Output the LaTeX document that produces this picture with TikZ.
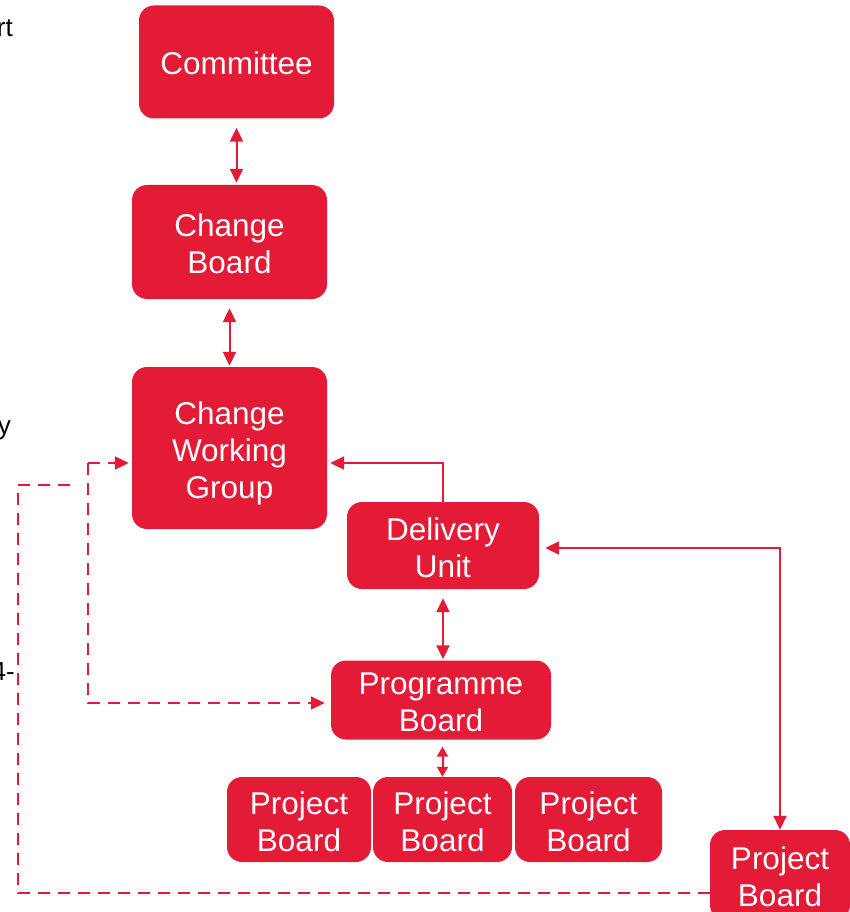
\documentclass[tikz,border=0pt]{standalone}
\usepackage{fontspec}
\setmainfont{Liberation Sans}
\usetikzlibrary{arrows.meta,calc}
\definecolor{govred}{RGB}{227,27,55}
\newcommand{\upstrut}{\rule{0pt}{34pt}}
\newcommand{\downstrut}{\rule[-8pt]{0pt}{8pt}}

\tikzset{
  box/.style={fill=govred, rounded corners=15pt, text=white, align=center,
    inner sep=0pt, font=\fontsize{31.5}{37}\selectfont},
  link/.style={draw=govred, line width=2pt,
    >={Triangle[length=14pt,width=13pt]}},
  shortlink/.style={link, >={Triangle[length=10pt,width=11pt]}},
  dashlink/.style={link, dash pattern=on 12pt off 8pt},
  frag/.style={inner sep=0pt, font=\fontsize{26}{30}\selectfont}
}

\begin{document}
\begin{tikzpicture}[x=1pt,y=-1pt]
    \useasboundingbox (0,0) rectangle (850,912);
    % boxes
    \node [box, minimum width=195pt, minimum height=113pt] (committee) at (236.5,62) {\upstrut Committee\downstrut};
    \node [box, minimum width=195pt, minimum height=114pt] (changeb) at (229.5,242) {\upstrut Change\\Board\downstrut};
    \node [box, minimum width=195pt, minimum height=162pt] (cwg) at (229.5,448) {\upstrut Change\\Working\\Group\downstrut};
    \node [box, minimum width=192pt, minimum height=87pt] (delivery) at (443,545.5) {\upstrut Delivery\\Unit\downstrut};
    \node [box, minimum width=220pt, minimum height=78pt] (progb) at (441,700) {\upstrut Programme\\Board\downstrut};
    \node [box, minimum width=144pt, minimum height=85pt] (projA) at (299,819.5) {\upstrut Project\\Board\downstrut};
    \node [box, minimum width=139pt, minimum height=85pt] (projB) at (442.5,819.5) {\upstrut Project\\Board\downstrut};
    \node [box, minimum width=147pt, minimum height=85pt] (projC) at (588.5,819.5) {\upstrut Project\\Board\downstrut};
    \node [box, minimum width=140pt, minimum height=90pt] (projD) at (780,875) {\upstrut Project\\Board\downstrut};
    % cut-off text at the left edge
    \node [frag, anchor=base east] (fragA) at (13,37) {rt};
    \node [frag, anchor=base east] (fragB) at (11,434) {y};
    \node [frag, anchor=base east] (fragC) at (15,680) {4-};
    % solid links
    \draw [link, <->, shorten <=9pt, shorten >=2pt] (committee.south) -- (committee.south |- changeb.north);
    \draw [link, <->, shorten <=9pt, shorten >=1pt] (changeb.south) -- (cwg.north);
    \draw [link, ->] (delivery.north) |- ($(cwg.east)+(3,15)$);
    \draw [link, <->, shorten <=9pt, shorten >=1pt] (delivery.south) -- (delivery.south |- progb.north);
    \draw [shortlink, <->, shorten >=7pt] (projB.north) -- (projB.north |- progb.south);
    \draw [link, <->] ($(delivery.east)+(6,2.5)$) -| (projD.north);
    % dashed links
    \coordinate (split) at (88,463);
    \coordinate (loopend) at (76,485);
    \draw [dashlink] ($(projD.west)+(0,18)$) -| (18,485) -- (loopend);
    \draw [dashlink, ->] (split) -- ($(cwg.west |- split)+(-3,0)$);
    \draw [dashlink, ->] (split) |- ($(progb.west)+(-6,3)$);
\end{tikzpicture}
\end{document}
